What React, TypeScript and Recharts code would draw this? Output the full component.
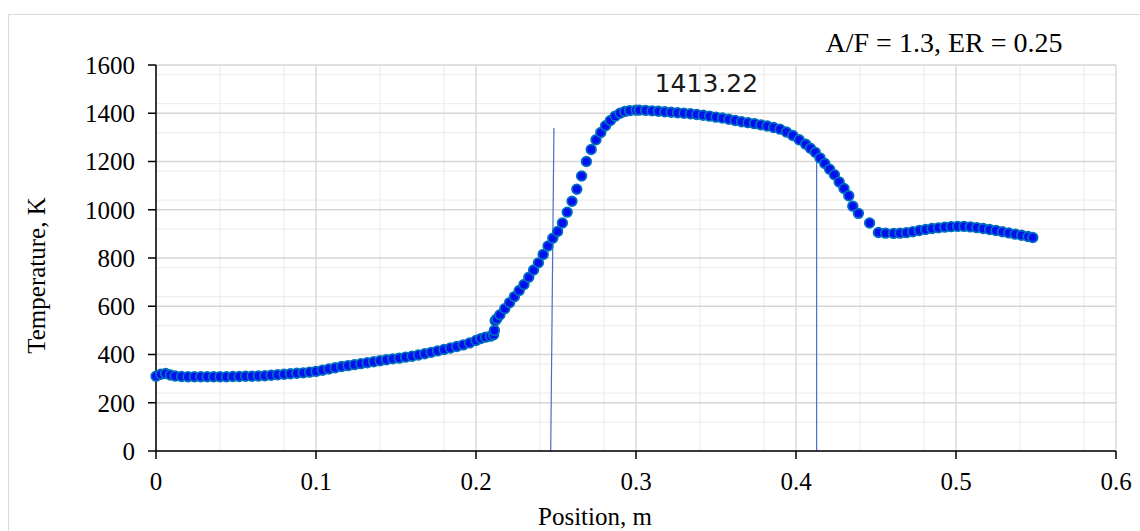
import React from 'react';
import {
  ScatterChart,
  Scatter,
  XAxis,
  YAxis,
  CartesianGrid,
  ReferenceLine,
  ReferenceDot,
} from 'recharts';

// Position along the reactor (m)
const positions = [
  0.0, 0.003, 0.006, 0.009, 0.012, 0.016, 0.02, 0.024, 0.028, 0.032,
  0.036, 0.04, 0.044, 0.048, 0.052, 0.056, 0.06, 0.064, 0.068, 0.072,
  0.076, 0.08, 0.084, 0.088, 0.092, 0.096, 0.1, 0.104, 0.108, 0.112,
  0.116, 0.12, 0.124, 0.128, 0.132, 0.136, 0.14, 0.144, 0.148, 0.152,
  0.156, 0.16, 0.164, 0.168, 0.172, 0.176, 0.18, 0.184, 0.188, 0.192,
  0.196, 0.2, 0.203, 0.206, 0.209, 0.211, 0.2115, 0.212, 0.213, 0.215,
  0.218, 0.221, 0.224, 0.227, 0.23, 0.233, 0.236, 0.239, 0.242, 0.245,
  0.248, 0.251, 0.254, 0.257, 0.26, 0.263, 0.266, 0.269, 0.272, 0.275,
  0.278, 0.281, 0.284, 0.287, 0.29, 0.293, 0.296, 0.3, 0.302, 0.306,
  0.31, 0.314, 0.318, 0.322, 0.326, 0.33, 0.334, 0.338, 0.342, 0.346,
  0.35, 0.354, 0.358, 0.362, 0.366, 0.37, 0.374, 0.378, 0.382, 0.386,
  0.39, 0.394, 0.398, 0.402, 0.406, 0.409, 0.412, 0.415, 0.418, 0.421,
  0.424, 0.427, 0.43, 0.433, 0.4355, 0.439, 0.446, 0.4515, 0.456, 0.461,
  0.465, 0.469, 0.473, 0.477, 0.481, 0.485, 0.489, 0.493, 0.497, 0.501,
  0.505, 0.509, 0.513, 0.517, 0.521, 0.525, 0.529, 0.533, 0.537, 0.541,
  0.545, 0.548,
];

// Temperature (K)
const temperatures = [
  310, 318, 321, 315, 311, 309, 308, 308, 308, 308,
  308, 308, 308, 309, 309, 310, 310, 311, 312, 314,
  316, 318, 320, 322, 324, 327, 330, 335, 340, 345,
  350, 354, 358, 362, 366, 370, 374, 378, 382, 385,
  389, 393, 398, 403, 409, 415, 421, 427, 433, 440,
  448, 458, 466, 472, 476, 482, 500, 540, 548, 565,
  590, 615, 640, 665, 690, 720, 750, 780, 815, 850,
  882, 910, 945, 990, 1035, 1085, 1140, 1200, 1250, 1290,
  1320, 1348, 1370, 1388, 1400, 1407, 1411, 1413, 1413, 1412,
  1410, 1408, 1406, 1404, 1402, 1400, 1398, 1395, 1392, 1388,
  1384, 1380, 1375, 1370, 1365, 1361, 1357, 1352, 1347, 1341,
  1334, 1322, 1308, 1290, 1272, 1255, 1238, 1215, 1192, 1168,
  1145, 1115, 1088, 1058, 1015, 985, 945, 906, 903, 902,
  903, 905, 909, 914, 918, 922, 925, 928, 930, 931,
  931, 929, 926, 922, 918, 914, 909, 904, 899, 894,
  889, 885,
];

const xTicks = [0, 0.1, 0.2, 0.3, 0.4, 0.5, 0.6];
const yTicks = [0, 200, 400, 600, 800, 1000, 1200, 1400, 1600];
const xMinor = [
  0.02, 0.04, 0.06, 0.08, 0.12, 0.14, 0.16, 0.18, 0.22, 0.24, 0.26, 0.28,
  0.32, 0.34, 0.36, 0.38, 0.42, 0.44, 0.46, 0.48, 0.52, 0.54, 0.56, 0.58,
];
const yMinor = [
  40, 80, 120, 160, 240, 280, 320, 360, 440, 480, 520, 560, 640, 680, 720, 760,
  840, 880, 920, 960, 1040, 1080, 1120, 1160, 1240, 1280, 1320, 1360, 1440,
  1480, 1520, 1560,
];

// Peak value annotation and the two marker lines
const peakLabel = '1413.22';
const peakLabelAt = { x: 0.344, y: 1525 };
const markerLine1 = [{ x: 0.2487, y: 1339 }, { x: 0.2467, y: 0 }];
const markerLine2 = [{ x: 0.4129, y: 1206 }, { x: 0.4129, y: 0 }];

const data = positions.map((p, i) => ({ position: p, temperature: temperatures[i] }));

const serif = "'Times New Roman', 'Liberation Serif', serif";

const Dot = (props: any) => (
  <circle cx={props.cx} cy={props.cy} r={4.8} fill="#0010F0" stroke="#0070C0" strokeWidth={1.8} />
);

export default function App() {
  return (
    <div style={{ position: 'absolute', left: 8, top: 14, width: 1132, height: 517, background: '#fff' }}>
      <div
        style={{
          position: 'absolute',
          inset: 0,
          borderTop: '1px solid #d9d9d9',
          borderLeft: '1px solid #d9d9d9',
          pointerEvents: 'none',
        }}
      />
      <ScatterChart
        width={1132}
        height={517}
        margin={{ top: 51, right: 24, left: 0, bottom: 0 }}
        style={{ position: 'absolute', left: 0, top: 0 }}
      >
        <CartesianGrid stroke="#efefef" strokeWidth={1.2} horizontalValues={yMinor} verticalValues={xMinor} />
        <CartesianGrid stroke="#d6d6d6" strokeWidth={1.3} horizontalValues={yTicks} verticalValues={xTicks} />
        <XAxis
          type="number"
          dataKey="position"
          domain={[0, 0.6]}
          ticks={xTicks}
          height={80}
          stroke="#000"
          strokeWidth={1.5}
          tickSize={8}
          tickMargin={13}
          tick={{ fill: '#000', fontSize: 25, fontFamily: serif }}
        />
        <YAxis
          type="number"
          dataKey="temperature"
          domain={[0, 1600]}
          ticks={yTicks}
          width={148}
          stroke="#000"
          strokeWidth={1.5}
          tickSize={8}
          tickMargin={13}
          tick={{ fill: '#000', fontSize: 25, fontFamily: serif }}
        />
        <ReferenceLine segment={markerLine1} stroke="#4472C4" strokeWidth={1.2} />
        <ReferenceLine segment={markerLine2} stroke="#4472C4" strokeWidth={1.2} />
        <Scatter data={data} shape={Dot} isAnimationActive={false} />
        <ReferenceDot
          x={peakLabelAt.x}
          y={peakLabelAt.y}
          r={0}
          stroke="none"
          fill="none"
          label={{
            value: peakLabel,
            position: 'center',
            fill: '#1a1a1a',
            fontSize: 25,
            fontFamily: "'DejaVu Sans', Verdana, sans-serif",
          }}
        />
      </ScatterChart>
      <div
        style={{
          position: 'absolute',
          left: 736,
          top: 14.5,
          width: 400,
          textAlign: 'center',
          fontFamily: serif,
          fontSize: 28,
          lineHeight: '28px',
          color: '#000',
          whiteSpace: 'nowrap',
        }}
      >
        A/F = 1.3, ER = 0.25
      </div>
      <div
        style={{
          position: 'absolute',
          left: 387,
          top: 490,
          width: 400,
          textAlign: 'center',
          fontFamily: serif,
          fontSize: 25,
          lineHeight: '25px',
          color: '#000',
          whiteSpace: 'nowrap',
        }}
      >
        Position, m
      </div>
      <div
        style={{
          position: 'absolute',
          left: 28 - 150,
          top: 261 - 12.5,
          width: 300,
          textAlign: 'center',
          fontFamily: serif,
          fontSize: 25,
          lineHeight: '25px',
          color: '#000',
          whiteSpace: 'nowrap',
          transform: 'rotate(-90deg)',
        }}
      >
        Temperature, K
      </div>
    </div>
  );
}
